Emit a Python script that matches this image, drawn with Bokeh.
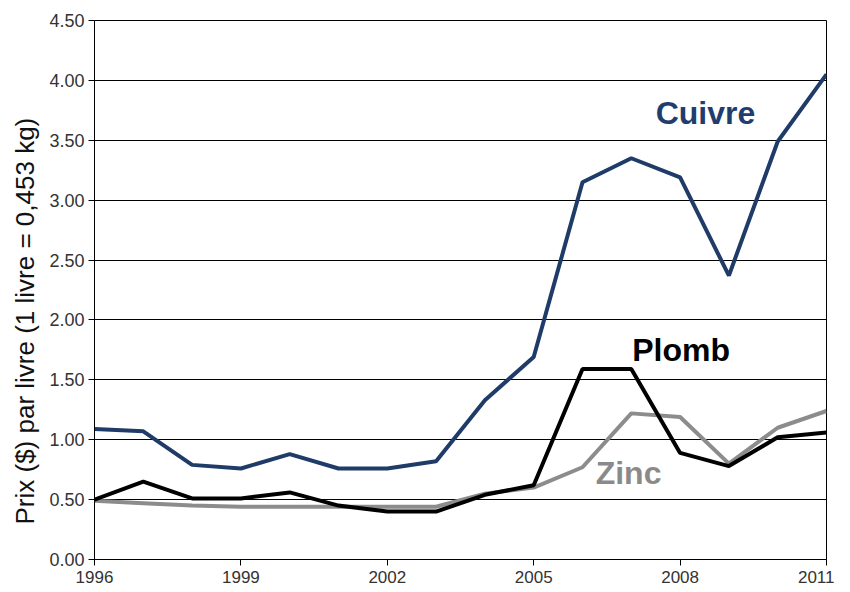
from bokeh.plotting import figure
from bokeh.models import FixedTicker, Range1d, CustomJSTickFormatter, Label, Title
from bokeh.embed import file_html
from bokeh.resources import INLINE

years = list(range(1996, 2012))
cuivre = [1.09, 1.07, 0.79, 0.76, 0.88, 0.76, 0.76, 0.82, 1.33, 1.69, 3.15, 3.35, 3.19, 2.37, 3.49, 4.05]
plomb = [0.50, 0.65, 0.51, 0.51, 0.56, 0.45, 0.40, 0.40, 0.54, 0.62, 1.59, 1.59, 0.89, 0.78, 1.02, 1.06]
zinc = [0.49, 0.47, 0.45, 0.44, 0.44, 0.44, 0.44, 0.44, 0.55, 0.60, 0.77, 1.22, 1.19, 0.80, 1.10, 1.24]
x_ticks = [1996, 1999, 2002, 2005, 2008, 2011]
y_ticks = [0, 0.5, 1.0, 1.5, 2.0, 2.5, 3.0, 3.5, 4.0, 4.5]
y_title = "Prix ($) par livre (1 livre = 0,453 kg)"

series_labels = [("Cuivre", 2007.5, 3.73, "#1F3D6E"),
                 ("Plomb", 2007.02, 1.75, "#000000"),
                 ("Zinc", 2006.27, 0.72, "#8A8A8A")]

p = figure(width=834, height=590, output_backend="svg", toolbar_location=None,
           x_range=Range1d(1996, 2011), y_range=Range1d(0, 4.5),
           min_border_left=94, min_border_right=8, min_border_top=20, min_border_bottom=31)

p.line(years, zinc, line_color="#8C8C8C", line_width=4)
p.line(years, plomb, line_color="#000000", line_width=4)
p.line(years, cuivre, line_color="#1F3B68", line_width=4)

for name, x, y, c in series_labels:
    p.add_layout(Label(x=x, y=y, text=name, text_color=c, text_font="Liberation Sans",
                       text_font_style="bold", text_font_size="32px",
                       text_baseline="middle", text_align="left"))

p.xaxis.ticker = FixedTicker(ticks=x_ticks)
p.yaxis.ticker = FixedTicker(ticks=y_ticks)
p.yaxis.formatter = CustomJSTickFormatter(code="return tick.toFixed(2);")
p.xgrid.grid_line_color = None
p.ygrid.grid_line_color = "#000000"
p.ygrid.grid_line_width = 1
p.outline_line_color = "#000000"

for ax in (p.xaxis, p.yaxis):
    ax.axis_line_color = "#000000"
    ax.major_tick_line_color = "#000000"
    ax.major_tick_out = 6
    ax.major_tick_in = 0
    ax.minor_tick_line_color = None
    ax.major_label_text_color = "#333333"

p.xaxis.major_label_text_font = "Liberation Sans"
p.xaxis.major_label_text_font_size = "17px"
p.xaxis.major_label_standoff = 5
p.yaxis.major_label_text_font = "Liberation Sans"
p.yaxis.major_label_text_font_size = "18px"
p.yaxis.major_label_standoff = 4

p.add_layout(Title(text=y_title, align="left", offset=35, standoff=13,
                   text_font="Liberation Sans", text_font_style="normal",
                   text_font_size="26px", text_color="#111111"), "left")

open("out.html", "w").write(file_html(p, INLINE))
